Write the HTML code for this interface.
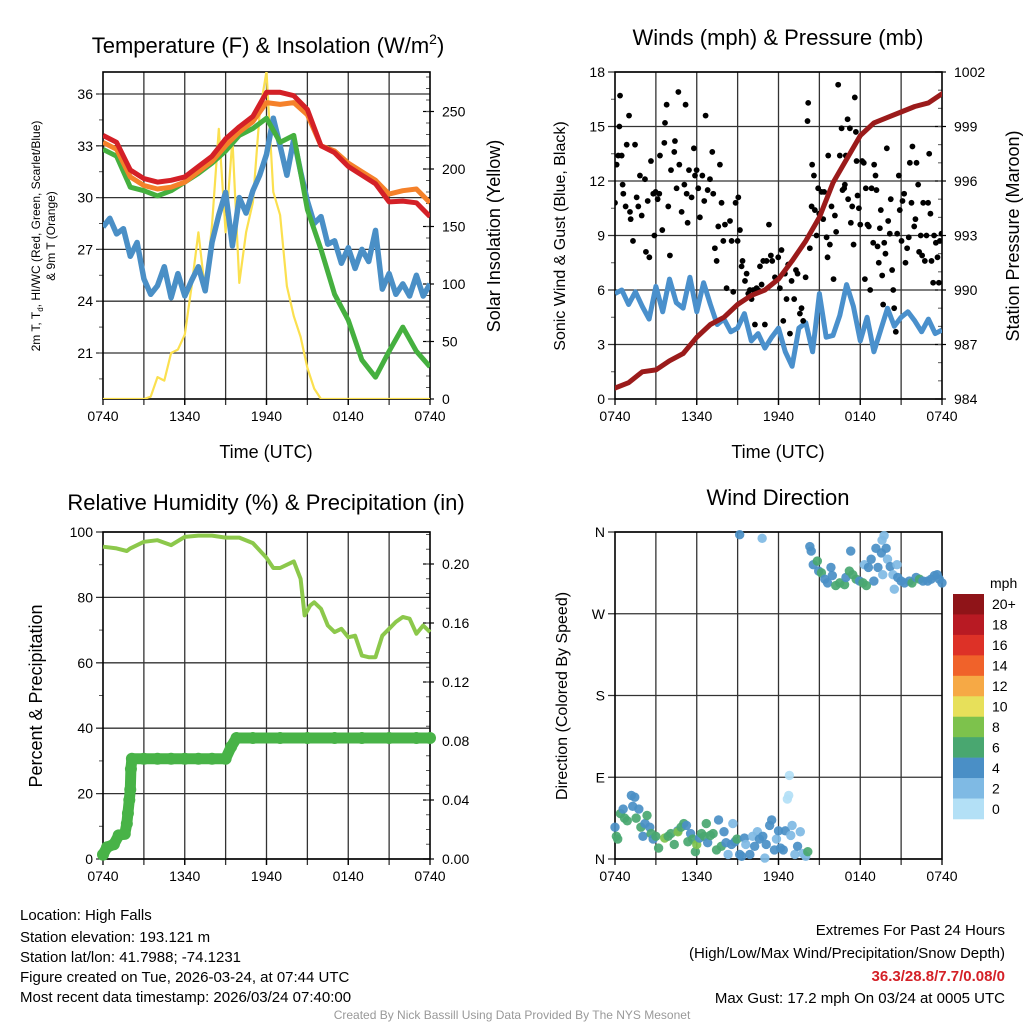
<!DOCTYPE html>
<html><head><meta charset="utf-8"><style>
html,body{margin:0;padding:0;background:#fff;}
svg{display:block;font-family:"Liberation Sans",Arial,sans-serif;}
</style></head><body>
<svg id="root" width="1024" height="1024" viewBox="0 0 1024 1024" xmlns="http://www.w3.org/2000/svg">
<rect width="1024" height="1024" fill="#fff"/>
<text x="268" y="53" font-size="22" text-anchor="middle">Temperature (F) &amp; Insolation (W/m<tspan dy="-9" font-size="14">2</tspan><tspan dy="9">)</tspan></text>
<text x="778" y="45" font-size="22" text-anchor="middle">Winds (mph) &amp; Pressure (mb)</text>
<text x="266" y="510" font-size="22" text-anchor="middle">Relative Humidity (%) &amp; Precipitation (in)</text>
<text x="778" y="505" font-size="22" text-anchor="middle">Wind Direction</text>
<text x="266" y="458" font-size="18" text-anchor="middle">Time (UTC)</text>
<text x="778" y="458" font-size="18" text-anchor="middle">Time (UTC)</text>
<text transform="translate(40,236) rotate(-90)" font-size="12" text-anchor="middle">2m T, T<tspan dy="3" font-size="8">d</tspan><tspan dy="-3">, HI/WC (Red, Green, Scarlet/Blue)</tspan></text>
<text transform="translate(55,236) rotate(-90)" font-size="12" text-anchor="middle">&amp; 9m T (Orange)</text>
<text transform="translate(500,236) rotate(-90)" font-size="18" text-anchor="middle">Solar Insolation (Yellow)</text>
<text transform="translate(565,236) rotate(-90)" font-size="16" text-anchor="middle">Sonic Wind &amp; Gust (Blue, Black)</text>
<text transform="translate(1019,236) rotate(-90)" font-size="18" text-anchor="middle">Station Pressure (Maroon)</text>
<text transform="translate(42,696) rotate(-90)" font-size="18" text-anchor="middle">Percent &amp; Precipitation</text>
<text transform="translate(567,696) rotate(-90)" font-size="16" text-anchor="middle">Direction (Colored By Speed)</text>
<g font-size="15">
<text x="20" y="920">Location: High Falls</text>
<text x="20" y="942">Station elevation: 193.121 m</text>
<text x="20" y="962">Station lat/lon: 41.7988; -74.1231</text>
<text x="20" y="982">Figure created on Tue, 2026-03-24, at 07:44 UTC</text>
<text x="20" y="1002">Most recent data timestamp: 2026/03/24 07:40:00</text>
</g>
<g font-size="15" text-anchor="end">
<text x="1005" y="935">Extremes For Past 24 Hours</text>
<text x="1005" y="958">(High/Low/Max Wind/Precipitation/Snow Depth)</text>
<text x="1005" y="981" fill="#d42027" font-weight="bold">36.3/28.8/7.7/0.08/0</text>
<text x="1005" y="1003">Max Gust: 17.2 mph On 03/24 at 0005 UTC</text>
</g>
<text x="512" y="1019" font-size="12" fill="#999" text-anchor="middle">Created By Nick Bassill Using Data Provided By The NYS Mesonet</text>
</svg>
<script>
// ---------- DATA ----------
const hourTicks = [0, 6, 12, 18, 24];
const hourTickLabels = ["0740", "1340", "1940", "0140", "0740"];
const tHours = [0,1,2,3,4,5,6,7,8,9,10,11,12,13,14,15,16,17,18,19,20,21,22,23,24];
const tempRed = [33.6,33.2,31.6,31.1,30.9,31.0,31.2,31.8,32.4,33.4,34.1,34.7,36.1,36.1,35.9,35.1,33.0,32.6,31.8,31.3,30.8,29.75,29.8,29.7,28.9];
const tempOrange = [33.2,32.8,31.2,30.7,30.5,30.6,30.9,31.5,32.1,33.0,33.8,34.4,35.5,35.4,35.5,34.8,33.0,32.7,32.0,31.5,31.0,30.2,30.4,30.5,29.7];
const tempGreen = [32.8,32.4,30.6,30.4,30.1,30.4,30.9,31.4,32.0,32.7,33.6,34.0,34.6,33.2,33.6,29.3,27.0,24.4,22.9,20.6,19.6,21.1,22.5,21.1,20.2];
const dHours = [0,0.5,1,1.5,2,2.5,3,3.5,4,4.5,5,5.5,6,6.5,7,7.5,8,8.5,9,9.5,10,10.5,11,11.5,12,12.5,13,13.5,14,14.5,15,15.5,16,16.5,17,17.5,18,18.5,19,19.5,20,20.5,21,21.5,22,22.5,23,23.5,24];
const dewBlue = [28.3,28.8,27.9,28.2,26.6,27.4,25.3,24.4,24.9,26.0,24.2,25.6,24.3,25.2,26.0,24.6,27.4,29.0,30.3,27.2,30.0,29.1,30.4,31.3,32.5,34.6,33.0,31.3,33.4,31.5,29.8,28.5,28.9,27.3,27.5,26.2,27.1,25.9,27.0,26.3,28.1,24.7,25.6,24.4,25.0,24.3,25.5,24.3,25.0];
const solarHours = [0,1,2,3,3.5,4,4.5,5,5.5,6,6.5,7,7.5,8,8.5,9,9.5,10,10.5,11,11.5,12,12.5,13,13.5,14,14.5,15,15.5,16,18,20,22,24];
const solar = [0,0,0,0,2,19,16,40,43,56,98,145,93,151,235,145,226,101,145,171,249,285,180,160,98,72,54,27,9,0,0,0,0,0];
const windHours = dHours;
const windSpeed = [5.8,6.0,5.2,5.9,5.1,4.4,6.2,4.8,6.6,5.3,5.0,6.7,4.8,6.4,5.2,4.1,4.4,3.7,3.9,4.7,3.2,3.6,2.8,3.4,3.9,2.6,1.8,3.9,4.2,2.6,5.8,3.4,3.5,4.6,6.3,5.1,3.2,4.5,2.6,3.8,5.0,4.0,4.5,4.8,4.3,3.7,4.4,3.6,3.8];
const pressHours = tHours;
const pressure = [984.6,984.9,985.5,985.6,986.1,986.5,987.4,988.1,988.5,989.2,989.7,990.0,990.6,991.6,992.7,994.0,995.9,997.2,998.5,999.2,999.5,999.8,1000.1,1000.3,1000.8];
const gustHours = [0,0.12,0.24,0.37,0.32,0.49,0.56,0.61,0.78,0.86,1.03,1.1,1.15,1.32,1.47,1.59,1.71,1.83,1.96,2.2,2.27,2.4,2.52,2.64,2.81,2.89,2.98,3.13,3.25,3.3,3.47,3.62,3.67,3.79,3.91,4.03,4.11,4.35,4.4,4.52,4.65,4.72,4.89,5.09,5.18,5.26,5.33,5.43,5.62,5.79,5.87,5.99,6.11,6.23,6.41,6.55,6.65,6.8,6.97,7.14,7.21,7.33,7.46,7.58,7.7,7.82,7.95,8.07,8.19,8.44,8.56,8.68,8.85,9.0,9.05,9.17,9.29,9.36,9.54,9.66,9.78,9.9,10.02,10.15,10.27,10.39,10.51,10.64,10.76,10.88,11.0,11.12,11.3,11.44,11.54,11.74,11.98,12.1,12.22,12.35,12.47,12.59,12.71,12.84,12.96,13.15,13.28,13.4,13.57,13.69,13.81,13.99,14.13,14.18,14.3,14.43,14.47,14.6,14.67,14.79,14.91,14.99,15.16,15.28,15.35,15.53,15.6,15.65,15.77,15.89,16.04,16.14,16.23,16.38,16.5,16.63,16.7,16.82,16.87,16.94,17.07,17.11,17.24,17.31,17.41,17.51,17.6,17.68,17.73,17.8,17.9,18.0,18.14,18.26,18.34,18.41,18.53,18.63,18.73,18.83,18.95,19.02,19.12,19.19,19.27,19.36,19.44,19.51,19.61,19.68,19.76,19.85,19.95,20.05,20.17,20.24,20.34,20.42,20.49,20.61,20.71,20.83,20.9,21.03,21.1,21.22,21.32,21.44,21.56,21.64,21.76,21.83,21.96,22.05,22.13,22.25,22.32,22.44,22.54,22.62,22.74,22.86,22.98,23.06,23.15,23.23,23.35,23.42,23.55,23.67,23.77,23.84,23.96];
const gustSpeed = [10.8,12.9,13.4,16.7,15.0,13.4,11.8,11.3,10.6,14.0,15.6,10.3,9.9,8.7,14.0,11.1,10.6,12.3,10.1,12.1,8.1,10.9,7.8,13.1,11.3,9.0,11.4,11.0,11.3,13.4,9.3,14.1,15.2,16.2,10.6,7.9,12.6,13.6,14.2,11.6,16.9,12.9,10.3,11.8,16.2,11.3,9.7,12.6,11.1,13.8,12.3,12.6,11.6,10.0,12.3,10.9,15.6,11.5,12.1,13.6,11.3,8.3,7.6,9.5,12.9,10.8,8.7,9.6,6.1,9.8,8.7,5.9,10.8,8.7,11.1,9.3,7.3,7.6,6.5,6.9,5.8,6.0,5.5,6.0,4.1,6.1,6.0,7.3,6.3,7.6,4.1,7.6,9.6,7.9,7.6,6.7,7.8,6.1,8.2,4.3,6.9,5.5,7.4,3.6,6.5,5.5,7.1,6.9,4.7,5.0,4.3,6.7,15.3,16.3,8.3,10.6,12.9,12.3,10.4,9.0,11.6,10.2,11.4,9.9,11.4,8.9,7.8,13.4,8.5,10.6,6.6,10.1,9.2,17.3,13.4,14.9,11.5,11.6,11.8,13.4,15.4,11.0,14.9,9.7,10.6,8.5,16.6,14.7,13.1,11.2,10.5,9.6,13.1,13.0,6.6,11.6,9.6,9.5,6.0,11.6,8.6,12.9,12.3,11.5,8.4,7.5,9.4,10.4,6.8,5.2,8.6,8.0,13.8,9.8,9.1,11.0,7.1,6.0,5.0,3.7,9.1,12.3,10.4,8.7,10.9,11.3,7.5,8.3,8.9,13.0,10.8,13.9,9.5,9.9,13.0,11.8,8.1,9.0,7.9,10.8,7.6,9.0,10.8,13.5,10.2,7.6,6.4,9.0,8.6,7.8,6.4,8.7,9.1];
const rhHours = [0,1,1.75,2,3,4,5,6,7,8,9,10,11,12,12.5,13,14,14.5,14.8,15.2,15.5,16,16.5,17,17.5,18,18.5,19,19.5,20,20.5,21,21.5,22,22.5,23,23.5,24];
const rh = [95.5,95,94.2,95,97,97.5,96,98.5,98.9,98.9,98.3,98.3,96.6,92.1,89,89,91,85.7,74.5,77.5,78.5,76.5,71.4,69.4,70.4,67.8,68.3,62.2,61.7,61.7,68.3,70.4,72.5,74,73.5,68.9,71.4,69.4];
const precipHours = [0,0.3,0.8,1.15,1.6,1.75,1.83,1.93,2.0,2.05,2.12,3,4,5,6,7,8,9,9.4,9.8,11,13,15,17,19,21,23,24];
const precip = [0.003,0.008,0.01,0.016,0.017,0.024,0.031,0.04,0.047,0.061,0.068,0.068,0.068,0.068,0.068,0.068,0.068,0.068,0.076,0.082,0.082,0.082,0.082,0.082,0.082,0.082,0.082,0.082];
const dirHours = [0,0.1,0.2,0.4,0.6,0.7,0.9,1.2,1.3,1.45,1.55,1.75,1.9,2.05,2.2,2.35,2.55,2.65,2.8,3.0,3.2,3.65,3.9,4.1,4.35,4.6,4.62,4.85,5.05,5.25,5.35,5.55,5.7,5.9,6.0,6.2,6.35,6.55,6.7,6.8,7.0,7.2,7.45,7.6,7.8,8.0,8.15,8.3,8.55,8.65,8.8,8.95,9.15,9.3,9.5,9.6,9.9,10.1,10.25,10.45,10.6,10.85,11.0,11.1,11.35,11.5,11.7,11.85,12.0,12.15,12.35,12.5,12.65,12.75,12.8,12.9,13.0,13.2,13.4,13.6,13.8,14.0,14.15,
 9.15,10.8,14.3,14.4,14.55,14.85,14.95,15.15,15.4,15.6,15.85,15.95,16.2,16.5,16.85,16.95,17.2,17.3,17.45,17.7,17.95,18.2,18.3,18.45,18.6,18.8,19.0,19.15,19.3,19.55,19.6,19.75,19.65,19.9,20.0,20.2,20.4,20.5,20.7,20.75,21.0,21.25,21.6,21.8,22.1,22.35,22.6,22.95,23.2,23.45,23.65,23.8,24.0];
const dirDeg = [35,25,22,50,55,45,42,70,58,68,45,55,35,25,39,48,35,28,22,25,12,23,25,28,16,31,30,35,39,37,19,28,22,8,16,23,28,25,39,18,26,28,10,43,14,30,18,5,16,39,19,22,5,3,23,16,5,25,14,30,22,25,1,16,37,43,10,22,31,12,10,31,66,70,92,26,37,5,14,30,6,3,8,
 357,353,344,339,324,328,317,315,308,304,321,312,301,304,302,310,317,339,313,308,306,304,324,301,321,330,306,342,321,337,351,356,313,342,330,322,313,297,324,310,306,304,306,304,310,308,306,306,308,312,313,308,304];
const dirSpeed = [4,6,6,6,4,6,6,4,4,4,6,4,6,4,4,6,4,6,4,6,6,8,6,6,6,4,8,6,6,4,6,4,6,6,8,4,6,6,6,4,6,6,6,4,6,4,4,2,4,2,4,6,4,4,4,2,4,2,4,2,4,4,2,4,4,4,4,2,4,4,4,4,0,0,0,2,2,2,4,2,2,2,6,
 4,2,4,4,4,6,4,6,4,4,4,4,6,6,6,4,6,4,6,6,4,6,2,6,4,4,4,4,4,4,2,2,2,4,2,4,2,2,2,4,4,4,4,6,4,6,4,4,4,4,4,4,4];
const cbLabels = ["20+","18","16","14","12","10","8","6","4","2","0"];
const cbColors = ["#8f1418","#b81a23","#dd3127","#f0622a","#f6a945","#e7e05a","#7dc24c","#49a770","#4a8fc6","#7fbae4","#b3e0f6"];

// ---------- HELPERS ----------
const NS = "http://www.w3.org/2000/svg";
const root = document.getElementById("root");
function mk(tag, attrs, parent) {
  const e = document.createElementNS(NS, tag);
  for (const k in attrs) e.setAttribute(k, attrs[k]);
  (parent || root).appendChild(e);
  return e;
}
function lin(d0, d1, r0, r1) { return v => r0 + (v - d0) * (r1 - r0) / (d1 - d0); }
function pathD(xs, ys, fx, fy) { return xs.map((h, i) => (i ? "L" : "M") + fx(h).toFixed(1) + "," + fy(ys[i]).toFixed(1)).join(""); }
function speedColor(s) { const idx = Math.min(10, Math.max(0, 10 - Math.round(s / 2))); return cbColors[idx]; }

function panel(name, x0, x1, y0, y1, leftTicks, leftLabels, leftFn, rightTicks, rightLabels, rightFn, minorLeft, minorRight) {
  const g = mk("g", {});
  
  
  const fx = lin(0, 24, x0, x1);
  for (let h = 3; h < 24; h += 3) {
    const gl = mk("line", {x1: fx(h), x2: fx(h), y1: y0, y2: y1 + 6, stroke: "#333", "stroke-width": 1.3}, g);
    
    
  }
  leftTicks.forEach((v, i) => {
    const y = leftFn(v);
    const gl = mk("line", {x1: x0 - 7, x2: x1, y1: y, y2: y, stroke: "#333", "stroke-width": 1.3}, g);
    
    
    const t = mk("text", {x: x0 - 10, y: y + 5, "font-size": 14, "text-anchor": "end"}, g);
    t.textContent = leftLabels[i];
    
    
  });
  (minorLeft || []).forEach(v => { mk("line", {x1: x0 - 4, x2: x0, y1: leftFn(v), y2: leftFn(v), stroke: "#555"}, g); });
  if (rightTicks) {
    rightTicks.forEach((v, i) => {
      const y = rightFn(v);
      mk("line", {x1: x1 - 7, x2: x1 + 4, y1: y, y2: y, stroke: "#000", "stroke-width": 1.2}, g);
      const t = mk("text", {x: x1 + 12, y: y + 5, "font-size": 14}, g);
      t.textContent = rightLabels[i];
      
      
    });
    (minorRight || []).forEach(v => { mk("line", {x1: x1 - 4, x2: x1, y1: rightFn(v), y2: rightFn(v), stroke: "#555"}, g); });
  }
  mk("rect", {x: x0, y: y0, width: x1 - x0, height: y1 - y0, fill: "none", stroke: "#000", "stroke-width": 1.6}, g);
  hourTicks.forEach((h, i) => {
    mk("line", {x1: fx(h), x2: fx(h), y1: y1, y2: y1 + 6, stroke: "#000", "stroke-width": 1.3}, g);
    const t = mk("text", {x: fx(h), y: y1 + 22, "font-size": 14, "text-anchor": "middle"}, g);
    t.textContent = hourTickLabels[i];
    
    
  });
  return fx;
}
function range(a, b, s) { const r = []; for (let v = a; v <= b + 1e-9; v += s) r.push(+v.toFixed(4)); return r; }

// ---------- PANEL 1 ----------
{
  const fyL = lin(21, 36, 353, 94), fyR = lin(0, 250, 399, 111.5);
  const fx = panel("temperature", 103, 430, 72, 399, [21,24,27,30,33,36], ["21","24","27","30","33","36"], fyL,
    [0,50,100,150,200,250], ["0","50","100","150","200","250"], fyR, range(19.5,36,1.5), range(10,280,10));
  const clip = mk("clipPath", {id: "c1"}); mk("rect", {x: 103, y: 72, width: 327, height: 327}, clip);
  const g = mk("g", {"clip-path": "url(#c1)"});
  const y = mk("path", {d: pathD(solarHours, solar, fx, fyR), fill: "none", stroke: "#fbe04f", "stroke-width": 2.2, "stroke-linejoin": "round"}, g);
   
  const b = mk("path", {d: pathD(dHours, dewBlue, fx, fyL), fill: "none", stroke: "#4a8fc6", "stroke-width": 5.5, "stroke-linejoin": "round"}, g);
   
  const gr = mk("path", {d: pathD(tHours, tempGreen, fx, fyL), fill: "none", stroke: "#45b03f", "stroke-width": 5, "stroke-linejoin": "round"}, g);
   
  const o = mk("path", {d: pathD(tHours, tempOrange, fx, fyL), fill: "none", stroke: "#f5812a", "stroke-width": 5, "stroke-linejoin": "round"}, g);
   
  const r = mk("path", {d: pathD(tHours, tempRed, fx, fyL), fill: "none", stroke: "#d42027", "stroke-width": 5, "stroke-linejoin": "round"}, g);
   
}
// ---------- PANEL 2 ----------
{
  const fyL = lin(0, 18, 399, 72), fyR = lin(984, 1002, 399, 72);
  const fx = panel("winds", 615, 942, 72, 399, [0,3,6,9,12,15,18], ["0","3","6","9","12","15","18"], fyL,
    [984,987,990,993,996,999,1002], ["984","987","990","993","996","999","1002"], fyR, range(1.5,16.5,3), range(985,1001,1));
  const clip = mk("clipPath", {id: "c2"}); mk("rect", {x: 615, y: 72, width: 327, height: 327}, clip);
  const g = mk("g", {"clip-path": "url(#c2)"});
  const w = mk("path", {d: pathD(windHours, windSpeed, fx, fyL), fill: "none", stroke: "#4a90cc", "stroke-width": 5, "stroke-linejoin": "round"}, g);
   
  gustHours.forEach((h, i) => {
    const c = mk("circle", {cx: fx(h), cy: fyL(gustSpeed[i]), r: 2.9, fill: "#000"}, g);
    
    
  });
  const p = mk("path", {d: pathD(pressHours, pressure, fx, fyR), fill: "none", stroke: "#9b1b1b", "stroke-width": 5, "stroke-linejoin": "round", "stroke-linecap": "round"}, g);
   
}
// ---------- PANEL 3 ----------
{
  const fyL = lin(0, 100, 859, 532), fyR = lin(0, 0.04, 859, 800);
  const fx = panel("humidity", 103, 430, 532, 859, [0,20,40,60,80,100], ["0","20","40","60","80","100"], fyL,
    [0,0.04,0.08,0.12,0.16,0.20], ["0.00","0.04","0.08","0.12","0.16","0.20"], fyR, range(10,90,20), range(0.01,0.22,0.01));
  const clip = mk("clipPath", {id: "c3"}); mk("rect", {x: 95, y: 532, width: 345, height: 340}, clip);
  const g = mk("g", {"clip-path": "url(#c3)"});
  const l = mk("path", {d: pathD(rhHours, rh, fx, fyL), fill: "none", stroke: "#8cc84b", "stroke-width": 4, "stroke-linejoin": "round"}, g);
   
  const pl = mk("path", {d: pathD(precipHours, precip, fx, fyR), fill: "none", stroke: "#48b347", "stroke-width": 11, "stroke-linejoin": "round", "stroke-linecap": "round"}, g);
   
  precipHours.forEach((h, i) => {
    const c = mk("circle", {cx: fx(h), cy: fyR(precip[i]), r: 6, fill: "#48b347"}, g);
    
    
  });
}
// ---------- PANEL 4 ----------
{
  const fy = lin(0, 360, 859, 532);
  const fx = panel("wind-direction", 615, 942, 532, 859, [0,90,180,270,360], ["N","E","S","W","N"], fy, null, null, null, [], []);
  const g = mk("g", {});
  dirHours.forEach((h, i) => {
    const c = mk("circle", {cx: fx(h), cy: fy(dirDeg[i]), r: 4.7, fill: speedColor(dirSpeed[i]), opacity: 0.92}, g);
    
    
  });
  const cb = mk("g", {});
  
  
  const t = mk("text", {x: 990, y: 588, "font-size": 14}, cb);
  t.textContent = "mph";
  
  
  const segH = (819 - 594) / cbColors.length;
  cbColors.forEach((col, i) => {
    const r = mk("rect", {x: 953, y: 594 + i * segH, width: 31, height: segH + 0.3, fill: col}, cb);
    
    
    const lt = mk("text", {x: 992, y: 594 + i * segH + segH / 2 + 5, "font-size": 14}, cb);
    lt.textContent = cbLabels[i];
    
    
  });
}
</script>
</body></html>
